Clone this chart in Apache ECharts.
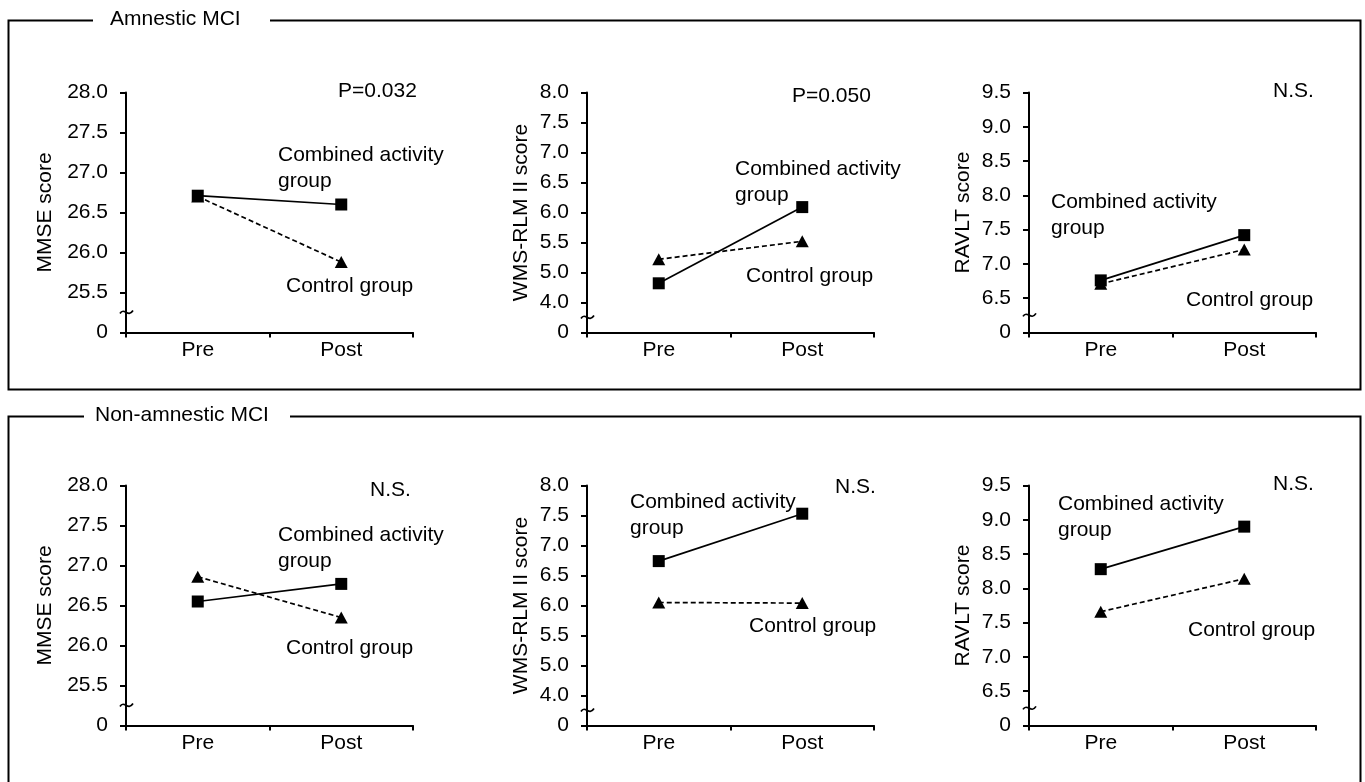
<!DOCTYPE html>
<html>
<head>
<meta charset="utf-8">
<script src="https://cdn.jsdelivr.net/npm/echarts@6/dist/echarts.min.js"></script>
<style>
  html, body { margin: 0; padding: 0; background: #fff; }
  #chart { width: 1365px; height: 782px; }
</style>
</head>
<body>
<div id="chart"></div>
<script>
// ---------------- data ----------------
var categories = ['Pre', 'Post'];

var amnMmseCombined  = [26.71, 26.60];
var amnMmseControl   = [26.70, 25.88];
var amnWmsCombined   = [4.82, 6.09];
var amnWmsControl    = [5.22, 5.52];
var amnRavltCombined = [6.76, 7.42];
var amnRavltControl  = [6.71, 7.21];

var nonMmseCombined  = [26.55, 26.77];
var nonMmseControl   = [26.86, 26.35];
var nonWmsCombined   = [6.74, 7.53];
var nonWmsControl    = [6.05, 6.04];
var nonRavltCombined = [8.28, 8.90];
var nonRavltControl  = [7.66, 8.14];

var mmseTicks  = ['0', '25.5', '26.0', '26.5', '27.0', '27.5', '28.0'];
var wmsTicks   = ['0', '4.0', '5.0', '5.5', '6.0', '6.5', '7.0', '7.5', '8.0'];
var ravltTicks = ['0', '6.5', '7.0', '7.5', '8.0', '8.5', '9.0', '9.5'];

var pLabels = ['P=0.032', 'P=0.050', 'N.S.', 'N.S.', 'N.S.', 'N.S.'];
var groupTitles = ['Amnestic MCI', 'Non-amnestic MCI'];
var combinedLabel = 'Combined activity\ngroup';
var controlLabel = 'Control group';

// ---------------- layout ----------------
var FONT = '"Liberation Sans", Arial, Helvetica, sans-serif';
var FS = 21;
var panels = [
  { left: 126,  top: 92.5,  name: 'MMSE score',        nameGap: 70, min: 25.0, max: 28.0, ticks: mmseTicks,  comb: amnMmseCombined,  ctrl: amnMmseControl },
  { left: 587,  top: 92.5,  name: 'WMS-RLM II score',  nameGap: 55, min: 4.0,  max: 8.0,  ticks: wmsTicks,   comb: amnWmsCombined,   ctrl: amnWmsControl },
  { left: 1029, top: 92.5,  name: 'RAVLT score',       nameGap: 55, min: 6.0,  max: 9.5,  ticks: ravltTicks, comb: amnRavltCombined, ctrl: amnRavltControl },
  { left: 126,  top: 485.5, name: 'MMSE score',        nameGap: 70, min: 25.0, max: 28.0, ticks: mmseTicks,  comb: nonMmseCombined,  ctrl: nonMmseControl },
  { left: 587,  top: 485.5, name: 'WMS-RLM II score',  nameGap: 55, min: 4.0,  max: 8.0,  ticks: wmsTicks,   comb: nonWmsCombined,   ctrl: nonWmsControl },
  { left: 1029, top: 485.5, name: 'RAVLT score',       nameGap: 55, min: 6.0,  max: 9.5,  ticks: ravltTicks, comb: nonRavltCombined, ctrl: nonRavltControl }
];
var GW = 287, GH = 240, INTERVAL = 0.5;

// annotation positions: [left, centerY]
var pPos    = [[338, 92], [792, 97], [1273, 92], [370, 491], [835, 488], [1273, 485]];
var combPos = [[278, 155], [735, 169], [1051, 202], [278, 535], [630, 502], [1058, 504]];
var ctrlPos = [[286, 287], [746, 277], [1186, 301], [286, 649], [749, 627], [1188, 631]];

var grids = [], xAxes = [], yAxes = [], series = [];
panels.forEach(function (p, i) {
  grids.push({ left: p.left, top: p.top, width: GW, height: GH });
  xAxes.push({
    type: 'category', gridIndex: i, data: categories, boundaryGap: true,
    axisLine: { show: true, lineStyle: { color: '#000', width: 2 } },
    axisTick: { show: true, length: 5, lineStyle: { color: '#000', width: 2 } },
    axisLabel: { color: '#000', fontSize: FS, fontFamily: FONT, margin: 7 },
    splitLine: { show: false }
  });
  (function (ticks, min) {
    yAxes.push({
      type: 'value', gridIndex: i, min: p.min, max: p.max, interval: INTERVAL,
      name: p.name, nameLocation: 'middle', nameGap: p.nameGap,
      nameTextStyle: { color: '#000', fontSize: FS, fontFamily: FONT },
      axisLine: { show: true, lineStyle: { color: '#000', width: 2 } },
      axisTick: { show: true, length: 6, lineStyle: { color: '#000', width: 2 } },
      axisLabel: {
        color: '#000', fontSize: FS, fontFamily: FONT, margin: 18,
        showMinLabel: true, showMaxLabel: true,
        formatter: function (v) { return ticks[Math.round((v - min) / INTERVAL)]; }
      },
      splitLine: { show: false }
    });
  })(p.ticks, p.min);
  series.push({
    type: 'line', xAxisIndex: i, yAxisIndex: i, data: p.ctrl, z: 2,
    symbol: 'triangle', symbolSize: [13, 12],
    lineStyle: { color: '#000', width: 1.7, type: [5, 3] },
    itemStyle: { color: '#000' }, silent: true
  });
  series.push({
    type: 'line', xAxisIndex: i, yAxisIndex: i, data: p.comb, z: 3,
    symbol: 'rect', symbolSize: 12,
    lineStyle: { color: '#000', width: 1.7 },
    itemStyle: { color: '#000' }, silent: true
  });
});

var graphics = [];
// group boxes
graphics.push({ type: 'polyline', shape: { points: [[93, 20.5], [8.5, 20.5], [8.5, 389.5], [1360.5, 389.5], [1360.5, 20.5], [270, 20.5]] }, style: { stroke: '#000', lineWidth: 2, fill: null } });
graphics.push({ type: 'polyline', shape: { points: [[84, 416.5], [8.5, 416.5], [8.5, 800]] }, style: { stroke: '#000', lineWidth: 2, fill: null } });
graphics.push({ type: 'polyline', shape: { points: [[290, 416.5], [1360.5, 416.5], [1360.5, 800]] }, style: { stroke: '#000', lineWidth: 2, fill: null } });
graphics.push({ type: 'text', left: 110, top: 9, style: { text: groupTitles[0], font: FS + 'px ' + FONT, fill: '#000' } });
graphics.push({ type: 'text', left: 95, top: 405, style: { text: groupTitles[1], font: FS + 'px ' + FONT, fill: '#000' } });

panels.forEach(function (p, i) {
  graphics.push({ type: 'text', left: pPos[i][0], top: pPos[i][1] - 11, style: { text: pLabels[i], font: FS + 'px ' + FONT, fill: '#000' } });
  graphics.push({ type: 'text', left: combPos[i][0], top: combPos[i][1] - 12.5, style: { text: combinedLabel, font: FS + 'px ' + FONT, fill: '#000', lineHeight: 25.5 } });
  graphics.push({ type: 'text', left: ctrlPos[i][0], top: ctrlPos[i][1] - 11, style: { text: controlLabel, font: FS + 'px ' + FONT, fill: '#000' } });
});

var chart = echarts.init(document.getElementById('chart'), null, { renderer: 'canvas' });
chart.setOption({
  animation: false,
  backgroundColor: '#fff',
  grid: grids, xAxis: xAxes, yAxis: yAxes, series: series,
  graphic: graphics
});

// axis-break glyphs, positioned through the axis scales
var breaks = [];
panels.forEach(function (p, i) {
  var y = chart.convertToPixel({ yAxisIndex: i }, p.min + INTERVAL / 2);
  var x = p.left;
  breaks.push({
    type: 'bezierCurve',
    shape: { x1: x - 6, y1: y + 1, cpx1: x - 2, cpy1: y - 6, cpx2: x + 2, cpy2: y + 6, x2: x + 7, y2: y - 2 },
    style: { stroke: '#000', lineWidth: 1.7, fill: null }, z: 20
  });
});
chart.setOption({ graphic: graphics.concat(breaks) });
</script>
</body>
</html>
